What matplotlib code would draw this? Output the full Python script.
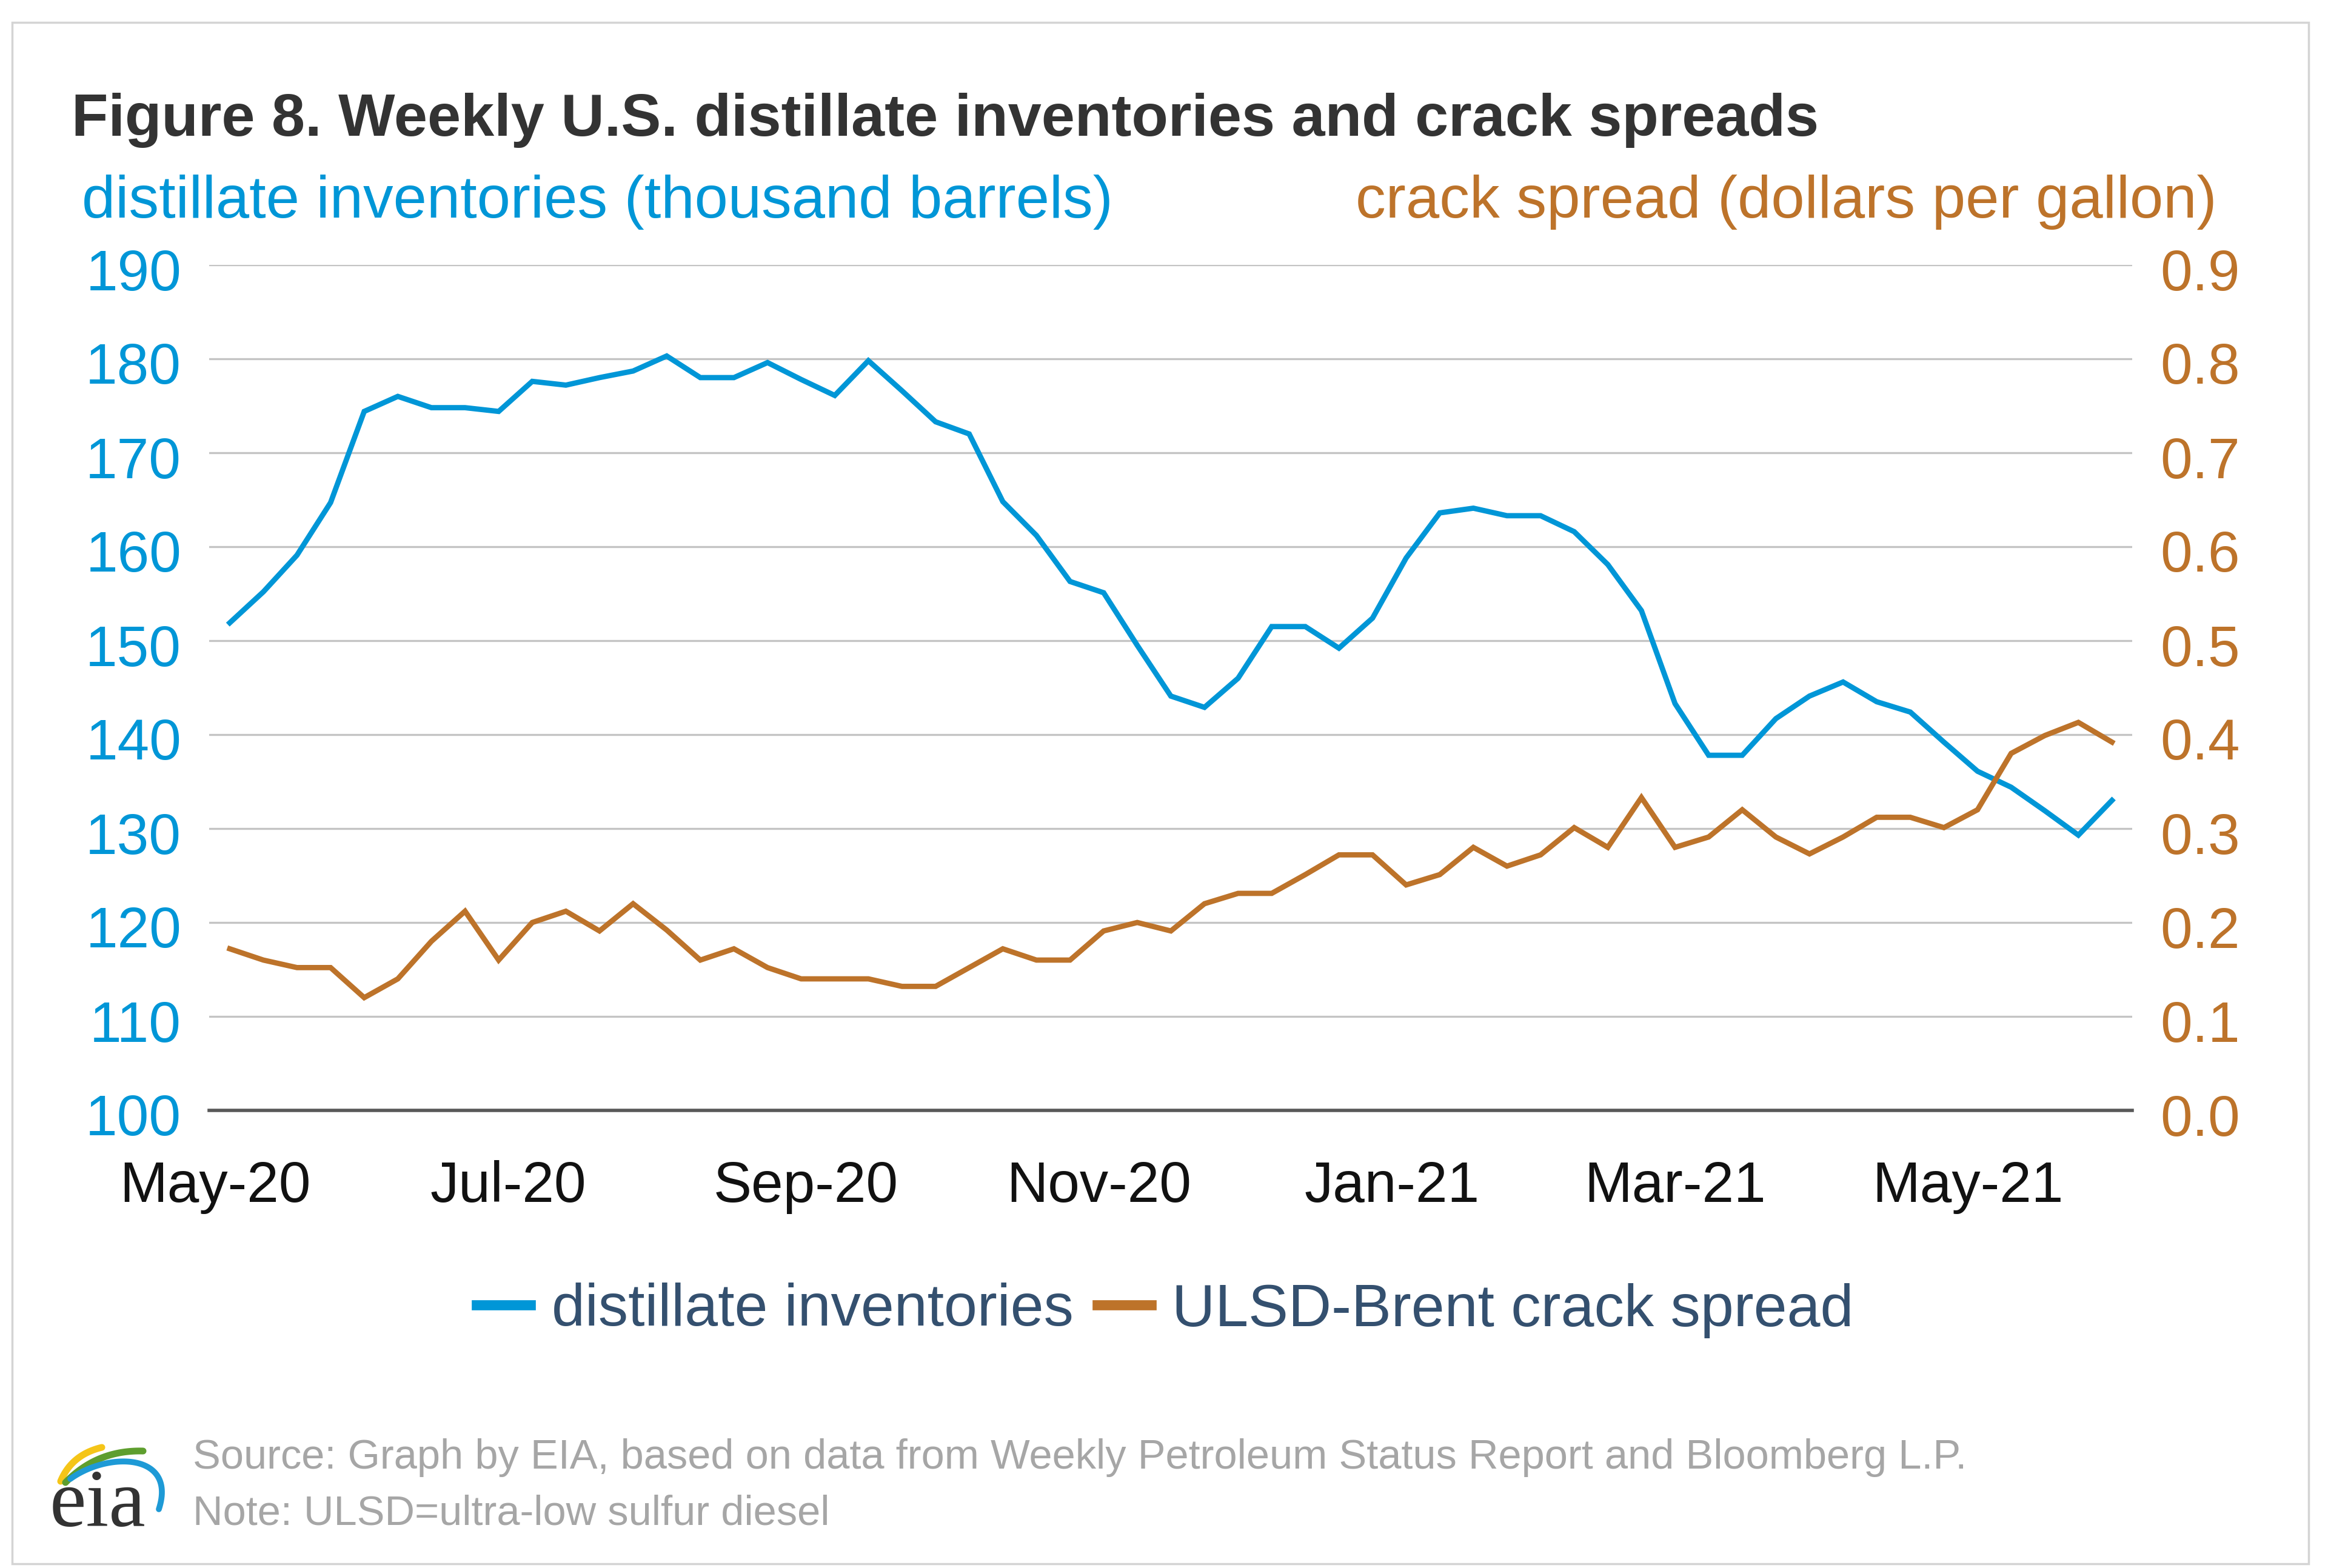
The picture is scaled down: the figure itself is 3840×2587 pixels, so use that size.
import matplotlib
matplotlib.use("Agg")
import matplotlib.pyplot as plt
import matplotlib.dates as mdates
import matplotlib.transforms as mtransforms
from matplotlib.patches import Rectangle
from matplotlib.lines import Line2D
import numpy as np
import pandas as pd
import datetime as dt

plt.rcParams['font.family'] = ['Liberation Sans', 'DejaVu Sans']

# ---------------- data ----------------
dates = pd.date_range('2020-05-04', periods=57, freq='7D')

inventories = [151.9, 155.2, 159.1, 164.7, 174.4, 176.0, 174.8, 174.8, 174.4, 177.6,
               177.2, 178.0, 178.7, 180.3, 178.0, 178.0, 179.6, 177.8, 176.1,
               179.8, 176.6, 173.3, 172.0, 164.8, 161.2, 156.3, 155.1, 149.5, 144.1,
               142.9, 146.0, 151.5, 151.5, 149.2, 152.4, 158.8, 163.6, 164.1,
               163.3, 163.3, 161.6, 158.1, 153.2, 143.3, 137.8, 137.8, 141.7, 144.1,
               145.6, 143.5, 142.4, 139.2, 136.1, 134.4, 131.9, 129.3, 133.0]

crack_spread = [0.172, 0.160, 0.152, 0.152, 0.120, 0.140, 0.180, 0.212, 0.160, 0.200,
                0.212, 0.191, 0.220, 0.192, 0.160, 0.172, 0.152, 0.140, 0.140,
                0.140, 0.132, 0.132, 0.152, 0.172, 0.160, 0.160, 0.191, 0.200, 0.191,
                0.220, 0.231, 0.231, 0.251, 0.272, 0.272, 0.240, 0.251, 0.280,
                0.260, 0.272, 0.301, 0.280, 0.333, 0.280, 0.291, 0.320, 0.291, 0.273,
                0.291, 0.312, 0.312, 0.301, 0.320, 0.380, 0.399, 0.413, 0.392]

left_ticks = [100, 110, 120, 130, 140, 150, 160, 170, 180, 190]
right_ticks = [0.0, 0.1, 0.2, 0.3, 0.4, 0.5, 0.6, 0.7, 0.8, 0.9]

title = "Figure 8. Weekly U.S. distillate inventories and crack spreads"
left_label = "distillate inventories (thousand barrels)"
right_label = "crack spread (dollars per gallon)"
series_names = ["distillate inventories", "ULSD-Brent crack spread"]
source_lines = ["Source: Graph by EIA, based on data from Weekly Petroleum Status Report and Bloomberg L.P.",
                "Note: ULSD=ultra-low sulfur diesel"]

# ---------------- style ----------------
BLUE = '#0096D7'
ORANGE = '#BD732A'
GRID = '#C4C4C4'
BASE = '#595959'
TITLE_C = '#333333'
LEGEND_C = '#34506F'
SOURCE_C = '#A6A6A6'

W, H = 3840, 2587
fig = plt.figure(figsize=(W / 100, H / 100), dpi=100)
fig.patch.set_facecolor('white')

# overlay for border + logo (pixel coordinates)
ov = fig.add_axes([0, 0, 1, 1], zorder=-1)
ov.set_xlim(0, W)
ov.set_ylim(H, 0)
ov.axis('off')
ov.add_patch(Rectangle((20, 37), 3788, 2543, fill=False, edgecolor='#D4D4D4', lw=2.5))


def bezier(pts, n=60):
    pts = np.asarray(pts, dtype=float)
    t = np.linspace(0, 1, n)[:, None]
    if len(pts) == 3:
        return (1 - t) ** 2 * pts[0] + 2 * (1 - t) * t * pts[1] + t ** 2 * pts[2]
    return ((1 - t) ** 3 * pts[0] + 3 * (1 - t) ** 2 * t * pts[1]
            + 3 * (1 - t) * t ** 2 * pts[2] + t ** 3 * pts[3])


# EIA logo
for ctrl, col, w in [([(100, 2444), (118, 2400), (168, 2388)], '#F5C518', 8),
                     ([(108, 2446), (160, 2392), (236, 2394)], '#5E9E2E', 8),
                     ([(116, 2440), (180, 2394), (292, 2398), (262, 2490)], '#1E9AD6', 7)]:
    c = bezier(ctrl)
    ov.plot(c[:, 0], c[:, 1], color=col, lw=w, solid_capstyle='round')
ov.text(82, 2518, 'eia', family=['Liberation Serif', 'DejaVu Serif'], fontsize=98,
        color='#333333', va='baseline', ha='left')

# source notes
ov.text(318, 2405, source_lines[0], fontsize=49.4, color=SOURCE_C, va='center', ha='left')
ov.text(318, 2497, source_lines[1], fontsize=49.4, color=SOURCE_C, va='center', ha='left')

# titles
ov.text(118, 198, title, fontsize=71.3, fontweight='bold', color=TITLE_C, va='center', ha='left')
ov.text(135, 333, left_label, fontsize=71.5, color=BLUE, va='center', ha='left')
ov.text(3657, 333, right_label, fontsize=71.6, color=ORANGE, va='center', ha='right')

# ---------------- main axes ----------------
ax = fig.add_axes([345 / W, 1 - 1832 / H, (3517 - 345) / W, (1832 - 437) / H])
ax.set_facecolor('none')
ax.plot(dates, inventories, color=BLUE, lw=6.3, solid_joinstyle='miter', zorder=3)
ax.set_ylim(100, 190)
ax.set_yticks(left_ticks)
ax.set_yticklabels([str(v) for v in left_ticks])
ax.set_xlim(dt.datetime(2020, 4, 29, 17), dt.datetime(2021, 6, 4, 5))
ax.xaxis.set_major_locator(mdates.MonthLocator(bymonth=[1, 3, 5, 7, 9, 11]))
ax.xaxis.set_major_formatter(mdates.DateFormatter('%b-%y'))
ax.yaxis.grid(True, color=GRID, lw=2.4, zorder=0)
ax.set_axisbelow(True)
for s in ['top', 'left', 'right']:
    ax.spines[s].set_visible(False)
ax.spines['bottom'].set_color(BASE)
ax.spines['bottom'].set_linewidth(4)
ax.tick_params(axis='y', length=0, pad=33, labelsize=68, labelcolor=BLUE)
ax.tick_params(axis='x', length=0, pad=59, labelsize=68, labelcolor='#111111')

ax2 = ax.twinx()
ax2.plot(dates, crack_spread, color=ORANGE, lw=6.3, solid_joinstyle='miter', zorder=3)
ax2.set_ylim(0, 0.9)
ax2.set_yticks(right_ticks)
ax2.set_yticklabels([f"{v:.1f}" for v in right_ticks])
for s in ['top', 'left', 'right', 'bottom']:
    ax2.spines[s].set_visible(False)
ax2.tick_params(axis='y', length=0, pad=33, labelsize=68, labelcolor=ORANGE)

# shift y tick labels slightly down (as in the reference)
shift = mtransforms.ScaledTranslation(0, -7 / 100, fig.dpi_scale_trans)
for lab in ax.get_yticklabels() + ax2.get_yticklabels():
    lab.set_transform(lab.get_transform() + shift)

# legend
handles = [Line2D([], [], color=BLUE, lw=12), Line2D([], [], color=ORANGE, lw=12)]
fig.legend(handles, series_names, loc='center', bbox_to_anchor=(0.5005, 1 - 2162 / H),
           ncol=2, frameon=False, fontsize=71, labelcolor=LEGEND_C,
           handlelength=0.9, handletextpad=0.35, columnspacing=0.4)

fig.savefig('out.png', dpi=100, facecolor='white')
